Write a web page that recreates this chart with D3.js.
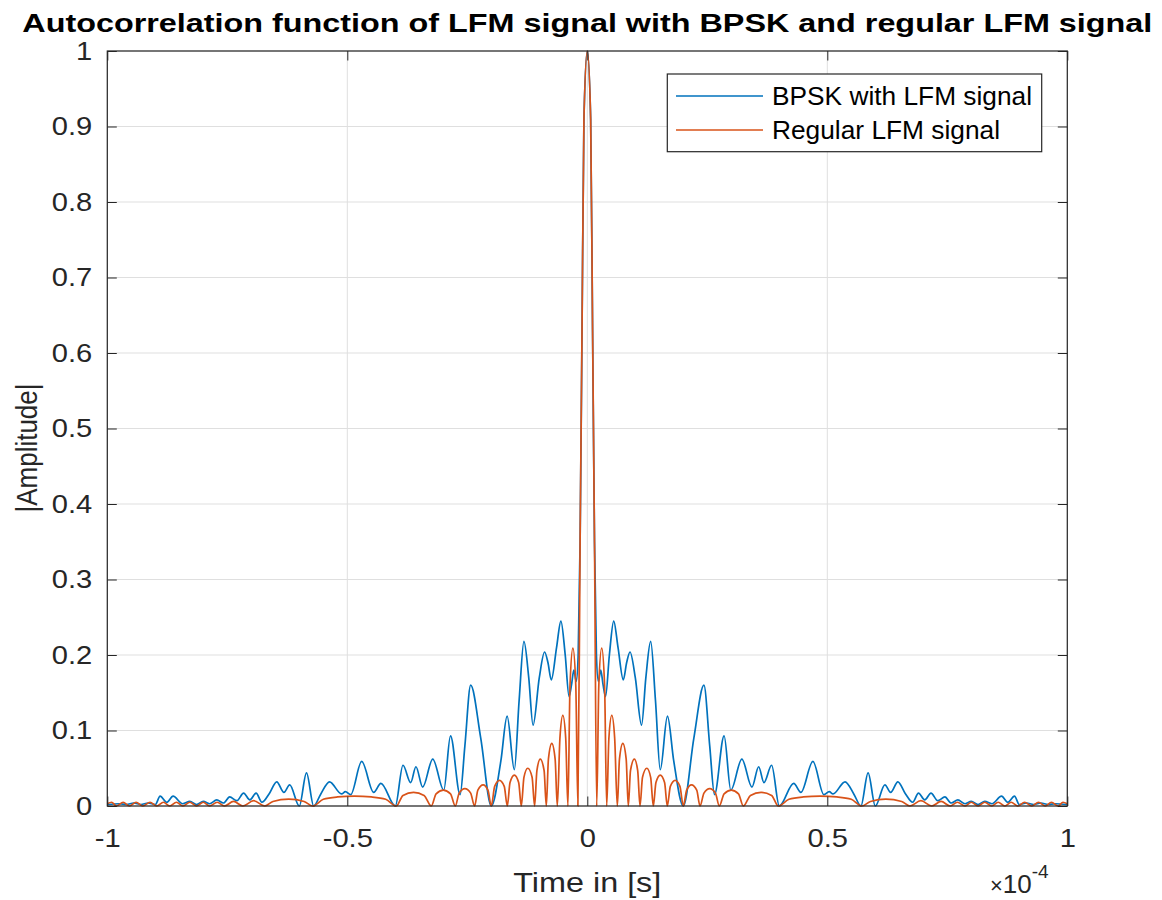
<!DOCTYPE html>
<html>
<head>
<meta charset="utf-8">
<script src="https://cdn.jsdelivr.net/npm/d3@7"></script>
<style>
  body { margin: 0; background: #fff; }
  text { font-family: "Liberation Sans", Arial, sans-serif; }
</style>
</head>
<body>
<div id="chart"></div>
<script>
// autocorrelation |R(t)|, time axis in units of 1e-4 s

const xTicks = [-1, -0.5, 0, 0.5, 1]
const yTicks = [0, 0.1, 0.2, 0.3, 0.4, 0.5, 0.6, 0.7, 0.8, 0.9, 1]
const seriesNames = ["BPSK with LFM signal", "Regular LFM signal"]

// BPSK with LFM signal
const bpsk = [
  [-1,.002],[-0.975,.003],[-0.96,.002],[-0.945,.004],[-0.93,.002],[-0.915,.004],[-0.9,.002],[-0.89,.013],
  [-0.876,.005],[-0.863,.013],[-0.843,.003],[-0.828,.006],[-0.814,.002],[-0.8,.006],[-0.787,.003],[-0.772,.008],
  [-0.758,.004],[-0.745,.012],[-0.73,.007],[-0.716,.017],[-0.703,.008],[-0.69,.017],[-0.678,.005],[-0.662,.017],
  [-0.647,.032],[-0.632,.018],[-0.62,.028],[-0.6,0],[-0.585,.044],[-0.57,0],[-0.556,.015],[-0.537,.032],
  [-0.512,.016],[-0.504,.019],[-0.493,.015],[-0.47,.059],[-0.445,.018],[-0.43,.03],[-0.4,0],[-0.384,.054],
  [-0.368,.031],[-0.357,.052],[-0.343,.025],[-0.322,.062],[-0.299,.021],[-0.285,.093],[-0.265,.015],[-0.255,.08],
  [-0.243,.16],[-0.222,.09],[-0.2,0],[-0.18,.06],[-0.167,.119],[-0.152,.048],[-0.142,.14],[-0.132,.218],
  [-0.122,.17],[-0.113,.107],[-0.1,.17],[-0.089,.204],[-0.082,.19],[-0.075,.167],[-0.064,.21],[-0.055,.245],
  [-0.046,.2],[-0.038,.145],[-0.033,.16],[-0.028,.18],[-0.023,.165],[-0.019,.2],[-0.015,.35],[-0.011,.63],
  [-0.007,.91],[0,1],
  [0.007,.91],[0.011,.63],[0.015,.35],[0.019,.2],[0.023,.165],[0.028,.18],[0.033,.16],[0.038,.145],
  [0.046,.2],[0.055,.245],[0.064,.21],[0.075,.167],[0.082,.19],[0.089,.204],[0.1,.17],[0.113,.107],
  [0.122,.17],[0.132,.218],[0.142,.14],[0.152,.048],[0.167,.119],[0.18,.06],[0.2,0],[0.222,.09],
  [0.243,.16],[0.255,.08],[0.265,.015],[0.285,.093],[0.299,.021],[0.322,.062],[0.343,.025],[0.357,.052],
  [0.368,.031],[0.384,.054],[0.4,0],[0.43,.03],[0.445,.018],[0.47,.059],[0.493,.015],[0.504,.019],
  [0.512,.016],[0.537,.032],[0.556,.015],[0.57,0],[0.585,.044],[0.6,0],[0.62,.028],[0.632,.018],
  [0.647,.032],[0.662,.017],[0.678,.005],[0.69,.017],[0.703,.008],[0.716,.017],[0.73,.007],[0.745,.012],
  [0.758,.004],[0.772,.008],[0.787,.003],[0.8,.006],[0.814,.002],[0.828,.006],[0.843,.003],[0.863,.013],
  [0.876,.005],[0.89,.013],[0.9,.002],[0.915,.004],[0.93,.002],[0.945,.004],[0.96,.002],[0.975,.003],[1,.002]
]

// Regular LFM signal
const lfm = [
  [-1,.003],[-0.991,.005],[-0.981,0],[-0.967,.005],[-0.954,0],[-0.94,.005],[-0.926,0],[-0.911,.005],
  [-0.897,0],[-0.883,.005],[-0.87,0],[-0.856,.005],[-0.8425,0],[-0.828,.005],[-0.814,0],[-0.8,.005],
  [-0.787,0],[-0.771,.005],[-0.756,0],[-0.737,.006],[-0.7175,0],[-0.695,.007],[-0.672,0],[-0.655,.006],
  [-0.622,.009],[-0.59,.006],[-0.572,0],[-0.55,.009],[-0.52,.012],[-0.485,.013],[-0.45,.012],[-0.42,.009],
  [-0.398,0],[-0.384,.014],[-0.362,.018],[-0.34,.014],[-0.325,0],[-0.315,.016],[-0.3,.021],[-0.285,.016],
  [-0.275,0],[-0.267,.017],[-0.255,.023],[-0.243,.017],[-0.2348,0],[-0.228,.021],[-0.217,.028],[-0.207,.021],
  [-0.2,0],[-0.193,.026],[-0.183,.034],[-0.173,.026],[-0.1667,0],[-0.161,.031],[-0.152,.041],[-0.143,.031],
  [-0.1375,0],[-0.132,.038],[-0.124,.05],[-0.115,.038],[-0.1098,0],[-0.105,.047],[-0.098,.062],[-0.09,.047],
  [-0.0854,0],[-0.081,.062],[-0.074,.083],[-0.067,.062],[-0.0625,0],[-0.057,.09],[-0.051,.12],[-0.045,.09],
  [-0.0404,0],[-0.036,.16],[-0.03,.209],[-0.024,.16],[-0.0196,0],[-0.015,.35],[-0.011,.63],[-0.007,.91],[0,1],
  [0.007,.91],[0.011,.63],[0.015,.35],[0.0196,0],[0.024,.16],[0.03,.209],[0.036,.16],[0.0404,0],
  [0.045,.09],[0.051,.12],[0.057,.09],[0.0625,0],[0.067,.062],[0.074,.083],[0.081,.062],[0.0854,0],
  [0.09,.047],[0.098,.062],[0.105,.047],[0.1098,0],[0.115,.038],[0.124,.05],[0.132,.038],[0.1375,0],
  [0.143,.031],[0.152,.041],[0.161,.031],[0.1667,0],[0.173,.026],[0.183,.034],[0.193,.026],[0.2,0],
  [0.207,.021],[0.217,.028],[0.228,.021],[0.2348,0],[0.243,.017],[0.255,.023],[0.267,.017],[0.275,0],
  [0.285,.016],[0.3,.021],[0.315,.016],[0.325,0],[0.34,.014],[0.362,.018],[0.384,.014],[0.398,0],
  [0.42,.009],[0.45,.012],[0.485,.013],[0.52,.012],[0.55,.009],[0.572,0],[0.59,.006],[0.622,.009],
  [0.655,.006],[0.672,0],[0.695,.007],[0.7175,0],[0.737,.006],[0.756,0],[0.771,.005],[0.787,0],
  [0.8,.005],[0.814,0],[0.828,.005],[0.8425,0],[0.856,.005],[0.87,0],[0.883,.005],[0.897,0],
  [0.911,.005],[0.926,0],[0.94,.005],[0.954,0],[0.967,.005],[0.981,0],[0.991,.005],[1,.003]
]

const colors = ["#0072BD", "#D95319"]

let width = 1162
let height = 900
let plotLeft = 107.3, plotRight = 1067.3, plotTop = 51, plotBottom = 806
let tickLen = 9.5
let stretch = 1.12   // the picture's lettering is a little wider than plain Arial

const svg = d3.select("#chart").append("svg")
    .attr("width", width)
    .attr("height", height)

const xScale = d3.scaleLinear().domain([-1, 1]).range([plotLeft, plotRight])
const yScale = d3.scaleLinear().domain([0, 1]).range([plotBottom, plotTop])

// widen a text element horizontally, or force it to a given width
function widen(sel, target) {
    sel.each(function() {
        let w = this.getComputedTextLength()
        d3.select(this)
            .attr("textLength", target ? target : w * stretch)
            .attr("lengthAdjust", "spacingAndGlyphs")
    })
}

// grid
svg.append("g").selectAll("line")
    .data(xTicks)
    .enter().append("line")
    .attr("x1", d => xScale(d)).attr("x2", d => xScale(d))
    .attr("y1", plotTop).attr("y2", plotBottom)
    .attr("stroke", "#dfdfdf").attr("stroke-width", 1)

svg.append("g").selectAll("line")
    .data(yTicks)
    .enter().append("line")
    .attr("x1", plotLeft).attr("x2", plotRight)
    .attr("y1", d => yScale(d)).attr("y2", d => yScale(d))
    .attr("stroke", "#dfdfdf").attr("stroke-width", 1)

// curves
const line = d3.line()
    .x(d => xScale(d[0]))
    .y(d => yScale(d[1]))
    .curve(d3.curveMonotoneX)

;[bpsk, lfm].forEach((data, i) => {
    svg.append("path")
        .datum(data)
        .attr("d", line)
        .attr("fill", "none")
        .attr("stroke", colors[i])
        .attr("stroke-width", 1.7)
        .attr("stroke-linejoin", "round")
})

// axes, MATLAB style: ticks inside, box on
function styleAxis(g) {
    g.select(".domain").remove()
    g.selectAll(".tick line").attr("stroke", "#262626")
    g.selectAll(".tick text")
        .attr("fill", "#262626")
        .style("font-size", "26px")
        .style("font-family", "'Liberation Sans', Arial, sans-serif")
}

svg.append("g")
    .attr("transform", "translate(0," + plotBottom + ")")
    .call(d3.axisBottom(xScale).tickValues(xTicks).tickSize(-tickLen).tickPadding(23)
        .tickFormat(d => String(d)))
    .call(styleAxis)
    .call(g => widen(g.selectAll(".tick text")))

svg.append("g")
    .attr("transform", "translate(0," + plotTop + ")")
    .call(d3.axisTop(xScale).tickValues(xTicks).tickSize(-tickLen).tickFormat(""))
    .call(styleAxis)

svg.append("g")
    .attr("transform", "translate(" + plotLeft + ",0)")
    .call(d3.axisLeft(yScale).tickValues(yTicks).tickSize(-tickLen).tickPadding(15)
        .tickFormat(d => String(d)))
    .call(styleAxis)
    .call(g => widen(g.selectAll(".tick text")))

svg.append("g")
    .attr("transform", "translate(" + plotRight + ",0)")
    .call(d3.axisRight(yScale).tickValues(yTicks).tickSize(-tickLen).tickFormat(""))
    .call(styleAxis)

svg.append("rect")
    .attr("x", plotLeft).attr("y", plotTop)
    .attr("width", plotRight - plotLeft).attr("height", plotBottom - plotTop)
    .attr("fill", "none")
    .attr("stroke", "#262626")
    .attr("stroke-width", 1.2)

// title and labels
svg.append("text")
    .attr("x", (plotLeft + plotRight) / 2)
    .attr("y", 32)
    .attr("text-anchor", "middle")
    .style("font-size", "26px")
    .style("font-weight", "bold")
    .attr("fill", "#000")
    .text("Autocorrelation function of LFM signal with BPSK and regular LFM signal")
    .call(widen, 1130)

svg.append("text")
    .attr("x", (plotLeft + plotRight) / 2)
    .attr("y", 892)
    .attr("text-anchor", "middle")
    .style("font-size", "27px")
    .attr("fill", "#262626")
    .text("Time in [s]")
    .call(widen, 148)

svg.append("text")
    .attr("transform", "translate(37," + 448 + ") scale(1.15,1) rotate(-90)")
    .attr("text-anchor", "middle")
    .style("font-size", "26px")
    .attr("fill", "#262626")
    .text("|Amplitude|")

const expo = svg.append("text")
    .attr("x", 990)
    .attr("y", 893)
    .style("font-size", "26px")
    .attr("fill", "#262626")
expo.append("tspan").style("font-size", "22px").text("\u00d7")
expo.append("tspan").text("10")
expo.append("tspan").attr("dy", -15).style("font-size", "19px").text("-4")

// legend
const legend = svg.append("g")
legend.append("rect")
    .attr("x", 667.3).attr("y", 74)
    .attr("width", 374.4).attr("height", 77.7)
    .attr("fill", "#fff")
    .attr("stroke", "#262626")
    .attr("stroke-width", 1.2)

const legendWidths = [260, 228]
seriesNames.forEach((name, i) => {
    let yy = 96 + i * 34
    legend.append("line")
        .attr("x1", 676).attr("x2", 763)
        .attr("y1", yy).attr("y2", yy)
        .attr("stroke", colors[i])
        .attr("stroke-width", 1.7)
    legend.append("text")
        .attr("x", 772)
        .attr("y", yy)
        .attr("dy", "0.35em")
        .style("font-size", "25px")
        .attr("fill", "#000")
        .text(name)
        .call(widen, legendWidths[i])
})
</script>
</body>
</html>
